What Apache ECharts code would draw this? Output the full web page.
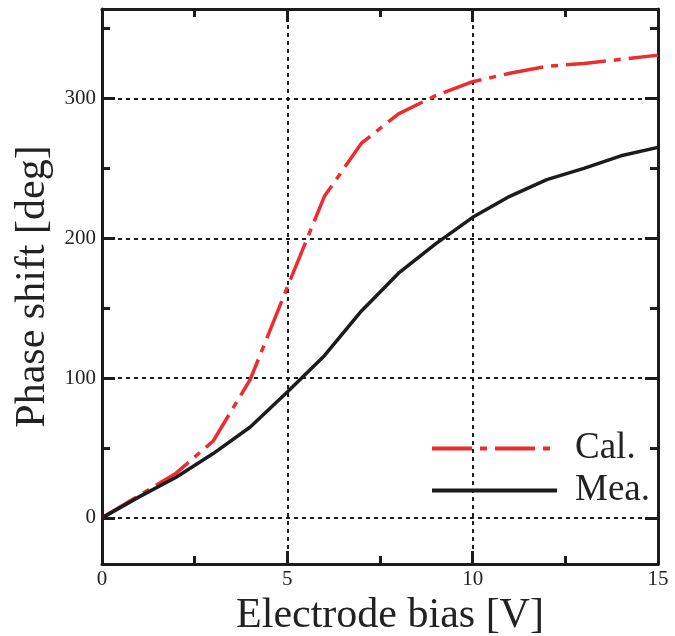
<!DOCTYPE html>
<html>
<head>
<meta charset="utf-8">
<script src="https://cdn.jsdelivr.net/npm/echarts@6/dist/echarts.min.js"></script>
<style>
html,body{margin:0;padding:0;background:#fff;}
#c{width:675px;height:636px;}
</style>
</head>
<body>
<div id="c"></div>
<script>
var biasV = [0,1,2,3,4,5,6,7,8,9,10,11,12,13,14,15];
var calDeg = [0,16,32,55,99,165,230,268,289,302,312,318,323,325,328,331];
var meaDeg = [0,15,29,46,65,90,116,148,175,196,215,230,242,250,259,265];
var yMajor = [0,100,200,300];
var yMinor = [50,150,250,350];
var seriesNames = ['Cal.','Mea.'];

var FONT = 'Liberation Serif';
var INK = '#1c1c1c';
var RED = '#ec2d2f';

function pairs(xs, ys){ return xs.map(function(x,i){ return [x, ys[i]]; }); }

var yMin = -33, yMax = 364;

function xAx(pos, main){
  return {
    type:'value', position:pos, min:0, max:15, interval:5,
    axisLine:{show:true, onZero:false, lineStyle:{color:INK, width:3}},
    axisTick:{show:true, inside:true, length:13, lineStyle:{color:INK, width:3}},
    minorTick:{show:true, splitNumber:2, length:8, lineStyle:{color:INK, width:3}},
    axisLabel:{show:main, margin:5, color:'#222', fontFamily:FONT, fontSize:21},
    splitLine:{show:main, lineStyle:{color:INK, width:2, type:[4,4]}},
    minorSplitLine:{show:false},
    name: main ? 'Electrode bias [V]' : '',
    nameLocation:'middle', nameGap:22,
    nameTextStyle:{fontFamily:FONT, fontSize:42, color:'#222', padding:[0,0,0,20]}
  };
}
function yAx(pos, main, major){
  var vals = major ? yMajor : yMinor;
  return {
    type:'value', position:pos, min:yMin, max:yMax,
    axisLine:{show:major, onZero:false, lineStyle:{color:INK, width:3}},
    axisTick:{show:true, inside:true, length: major ? 13 : 8, customValues:vals, lineStyle:{color:INK, width:3}},
    axisLabel:{show:main, customValues:yMajor, margin:6, color:'#222', fontFamily:FONT, fontSize:21,
      formatter:function(v){ return (v % 100 === 0) ? String(v) : ''; }},
    splitLine:{show:main, lineStyle:{color:INK, width:2, type:[4,4]}},
    name: main ? 'Phase shift [deg]' : '',
    nameLocation:'middle', nameGap:46,
    nameTextStyle:{fontFamily:FONT, fontSize:42, color:'#222'}
  };
}

var chart = echarts.init(document.getElementById('c'), null, {renderer:'canvas'});
chart.setOption({
  animation:false,
  backgroundColor:'#fff',
  grid:{left:102, right:17, top:9, bottom:72, containLabel:false, outerBoundsMode:'none'},
  xAxis:[ xAx('bottom', true), xAx('top', false) ],
  yAxis:[ yAx('left', true, true), yAx('left', false, false), yAx('right', false, true), yAx('right', false, false) ],
  legend:{
    orient:'vertical', left:425, top:425, itemWidth:125, itemHeight:16, itemGap:5,
    data:seriesNames,
    itemStyle:{opacity:0, borderWidth:0},
    lineStyle:{width:4},
    textStyle:{fontFamily:FONT, fontSize:37, color:'#222', padding:[0,0,0,13]}
  },
  series:[
    {name:seriesNames[0], type:'line', xAxisIndex:0, yAxisIndex:0, data:pairs(biasV, calDeg),
     symbol:'none', showSymbol:false, smooth:false, z:3,
     lineStyle:{color:RED, width:3.5, type:[40,8,7,8]}, itemStyle:{color:RED}},
    {name:seriesNames[1], type:'line', xAxisIndex:0, yAxisIndex:0, data:pairs(biasV, meaDeg),
     symbol:'none', showSymbol:false, smooth:false, z:3,
     lineStyle:{color:INK, width:3.5, type:'solid'}, itemStyle:{color:INK}}
  ]
});
</script>
</body>
</html>
